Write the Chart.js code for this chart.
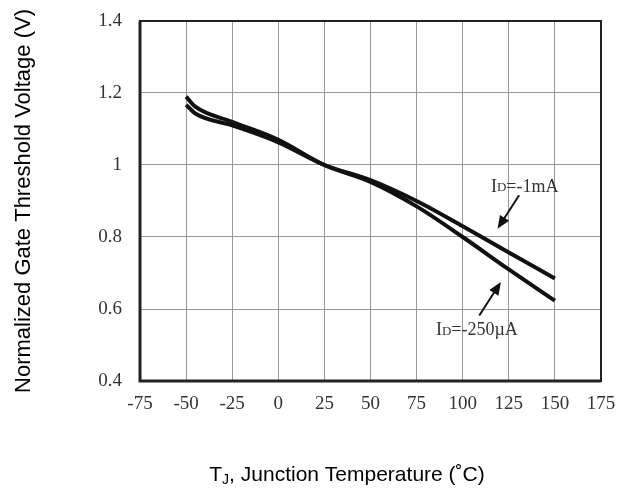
<!DOCTYPE html>
<html>
<head>
<meta charset="utf-8">
<script src="https://cdn.jsdelivr.net/npm/chart.js@4/dist/chart.umd.min.js"></script>
<style>
  body { margin: 0; background: #fff; }
  #wrap { width: 619px; height: 488px; position: relative; }
</style>
</head>
<body>
<div id="wrap"><canvas id="vthChart"></canvas></div>
<script>
// junction temperature points (°C)
const temps = [-50, -45, -25, 0, 25, 50, 75, 100, 125, 150];
// normalized Vth, ID = -1mA
const vth1mA = [1.167, 1.143, 1.11, 1.063, 1.0, 0.958, 0.9, 0.83, 0.757, 0.685];
// normalized Vth, ID = -250uA
const vth250uA = [1.19, 1.162, 1.12, 1.07, 1.0, 0.953, 0.885, 0.8, 0.71, 0.623];

const xTicks = [-75, -50, -25, 0, 25, 50, 75, 100, 125, 150, 175];
const yTicks = [0.4, 0.6, 0.8, 1, 1.2, 1.4];

// callouts, in data units
const notes = [
    { main: "I", sub: "D", rest: "=-1mA", x: 115.3, y: 0.939, from: [130.6, 0.916], to: [118.9, 0.823] },
    { main: "I", sub: "D", rest: "=-250\u00b5A", x: 85.5, y: 0.541, from: [109, 0.582], to: [120.7, 0.675] },
];

function toPoints(ys) {
    return temps.map((t, i) => ({ x: t, y: ys[i] }));
}

const serif = "'Liberation Serif', 'DejaVu Serif', serif";
const sans = "'Liberation Sans', Arial, sans-serif";

const extras = {
    id: "extras",
    afterDatasetsDraw(chart) {
        const { ctx, chartArea: a, scales } = chart;
        const sx = scales.x, sy = scales.y;
        ctx.save();

        // plot frame
        ctx.strokeStyle = "#222";
        ctx.lineWidth = 2;
        ctx.strokeRect(a.left, a.top, a.right - a.left, a.bottom - a.top);
        ctx.lineWidth = 3;
        ctx.beginPath();
        ctx.moveTo(a.left, a.top);
        ctx.lineTo(a.left, a.bottom);
        ctx.lineTo(a.right, a.bottom);
        ctx.stroke();

        // callout labels and arrows
        notes.forEach((n) => {
            const px = sx.getPixelForValue(n.x);
            const py = sy.getPixelForValue(n.y);
            ctx.fillStyle = "#333";
            ctx.textBaseline = "middle";
            ctx.textAlign = "left";
            ctx.font = "18px " + serif;
            ctx.fillText(n.main, px, py);
            let w = ctx.measureText(n.main).width;
            ctx.font = "13px " + serif;
            ctx.fillText(n.sub, px + w, py + 1);
            w += ctx.measureText(n.sub).width;
            ctx.font = "18px " + serif;
            ctx.fillText(n.rest, px + w, py);

            const x1 = sx.getPixelForValue(n.from[0]);
            const y1 = sy.getPixelForValue(n.from[1]);
            const x2 = sx.getPixelForValue(n.to[0]);
            const y2 = sy.getPixelForValue(n.to[1]);
            const ang = Math.atan2(y2 - y1, x2 - x1);
            ctx.strokeStyle = "#111";
            ctx.fillStyle = "#111";
            ctx.lineWidth = 2;
            ctx.beginPath();
            ctx.moveTo(x1, y1);
            ctx.lineTo(x2 - 8 * Math.cos(ang), y2 - 8 * Math.sin(ang));
            ctx.stroke();
            ctx.beginPath();
            ctx.moveTo(x2, y2);
            ctx.lineTo(x2 - 14 * Math.cos(ang - 0.4), y2 - 14 * Math.sin(ang - 0.4));
            ctx.lineTo(x2 - 14 * Math.cos(ang + 0.4), y2 - 14 * Math.sin(ang + 0.4));
            ctx.closePath();
            ctx.fill();
        });

        // x axis title with subscript
        const cx = 347, base = 481;
        ctx.fillStyle = "#000";
        ctx.textBaseline = "alphabetic";
        ctx.textAlign = "left";
        const parts = [
            { t: "T", f: "21px " + sans, dy: 0 },
            { t: "J", f: "14px " + sans, dy: 3 },
            { t: ", Junction Temperature (\u02daC)", f: "21px " + sans, dy: 0 },
        ];
        let total = 0;
        parts.forEach((p) => { ctx.font = p.f; total += ctx.measureText(p.t).width; });
        let xx = cx - total / 2;
        parts.forEach((p) => {
            ctx.font = p.f;
            ctx.fillText(p.t, xx, base + p.dy);
            xx += ctx.measureText(p.t).width;
        });
        ctx.restore();
    },
};

new Chart(document.getElementById("vthChart"), {
    type: "line",
    data: {
        datasets: [
            {
                label: "ID=-1mA",
                data: toPoints(vth1mA),
                borderColor: "#111",
                borderWidth: 4,
                pointRadius: 0,
                tension: 0.4,
                cubicInterpolationMode: "monotone",
            },
            {
                label: "ID=-250uA",
                data: toPoints(vth250uA),
                borderColor: "#111",
                borderWidth: 4,
                pointRadius: 0,
                tension: 0.4,
                cubicInterpolationMode: "monotone",
            },
        ],
    },
    options: {
        responsive: true,
        maintainAspectRatio: false,
        animation: false,
        layout: { padding: { top: 21, right: 18, left: 0, bottom: 0 } },
        plugins: {
            legend: { display: false },
            tooltip: { enabled: false },
        },
        scales: {
            x: {
                type: "linear",
                min: -75,
                max: 175,
                afterBuildTicks: (s) => { s.ticks = xTicks.map((v) => ({ value: v })); },
                ticks: {
                    font: { family: serif, size: 19 },
                    color: "#333",
                    padding: 12,
                    maxRotation: 0,
                },
                grid: { color: "#999", lineWidth: 1, drawTicks: false },
                border: { display: false },
                afterFit: (s) => {
                    s.height = 107;
                    s.paddingLeft = 0;
                    s.paddingRight = 0;
                },
            },
            y: {
                min: 0.4,
                max: 1.4,
                afterBuildTicks: (s) => { s.ticks = yTicks.map((v) => ({ value: v })); },
                ticks: {
                    font: { family: serif, size: 19 },
                    color: "#333",
                    padding: 18,
                    callback: (v) => String(Math.round(v * 10) / 10),
                },
                grid: { color: "#999", lineWidth: 1, drawTicks: false },
                border: { display: false },
                title: {
                    display: true,
                    text: "Normalized Gate Threshold Voltage (V)",
                    font: { family: sans, size: 22 },
                    color: "#000",
                    padding: { top: 11, bottom: 0 },
                },
                afterFit: (s) => {
                    s.width = 140;
                    s.paddingTop = 0;
                    s.paddingBottom = 0;
                },
            },
        },
    },
    plugins: [extras],
});
</script>
</body>
</html>
